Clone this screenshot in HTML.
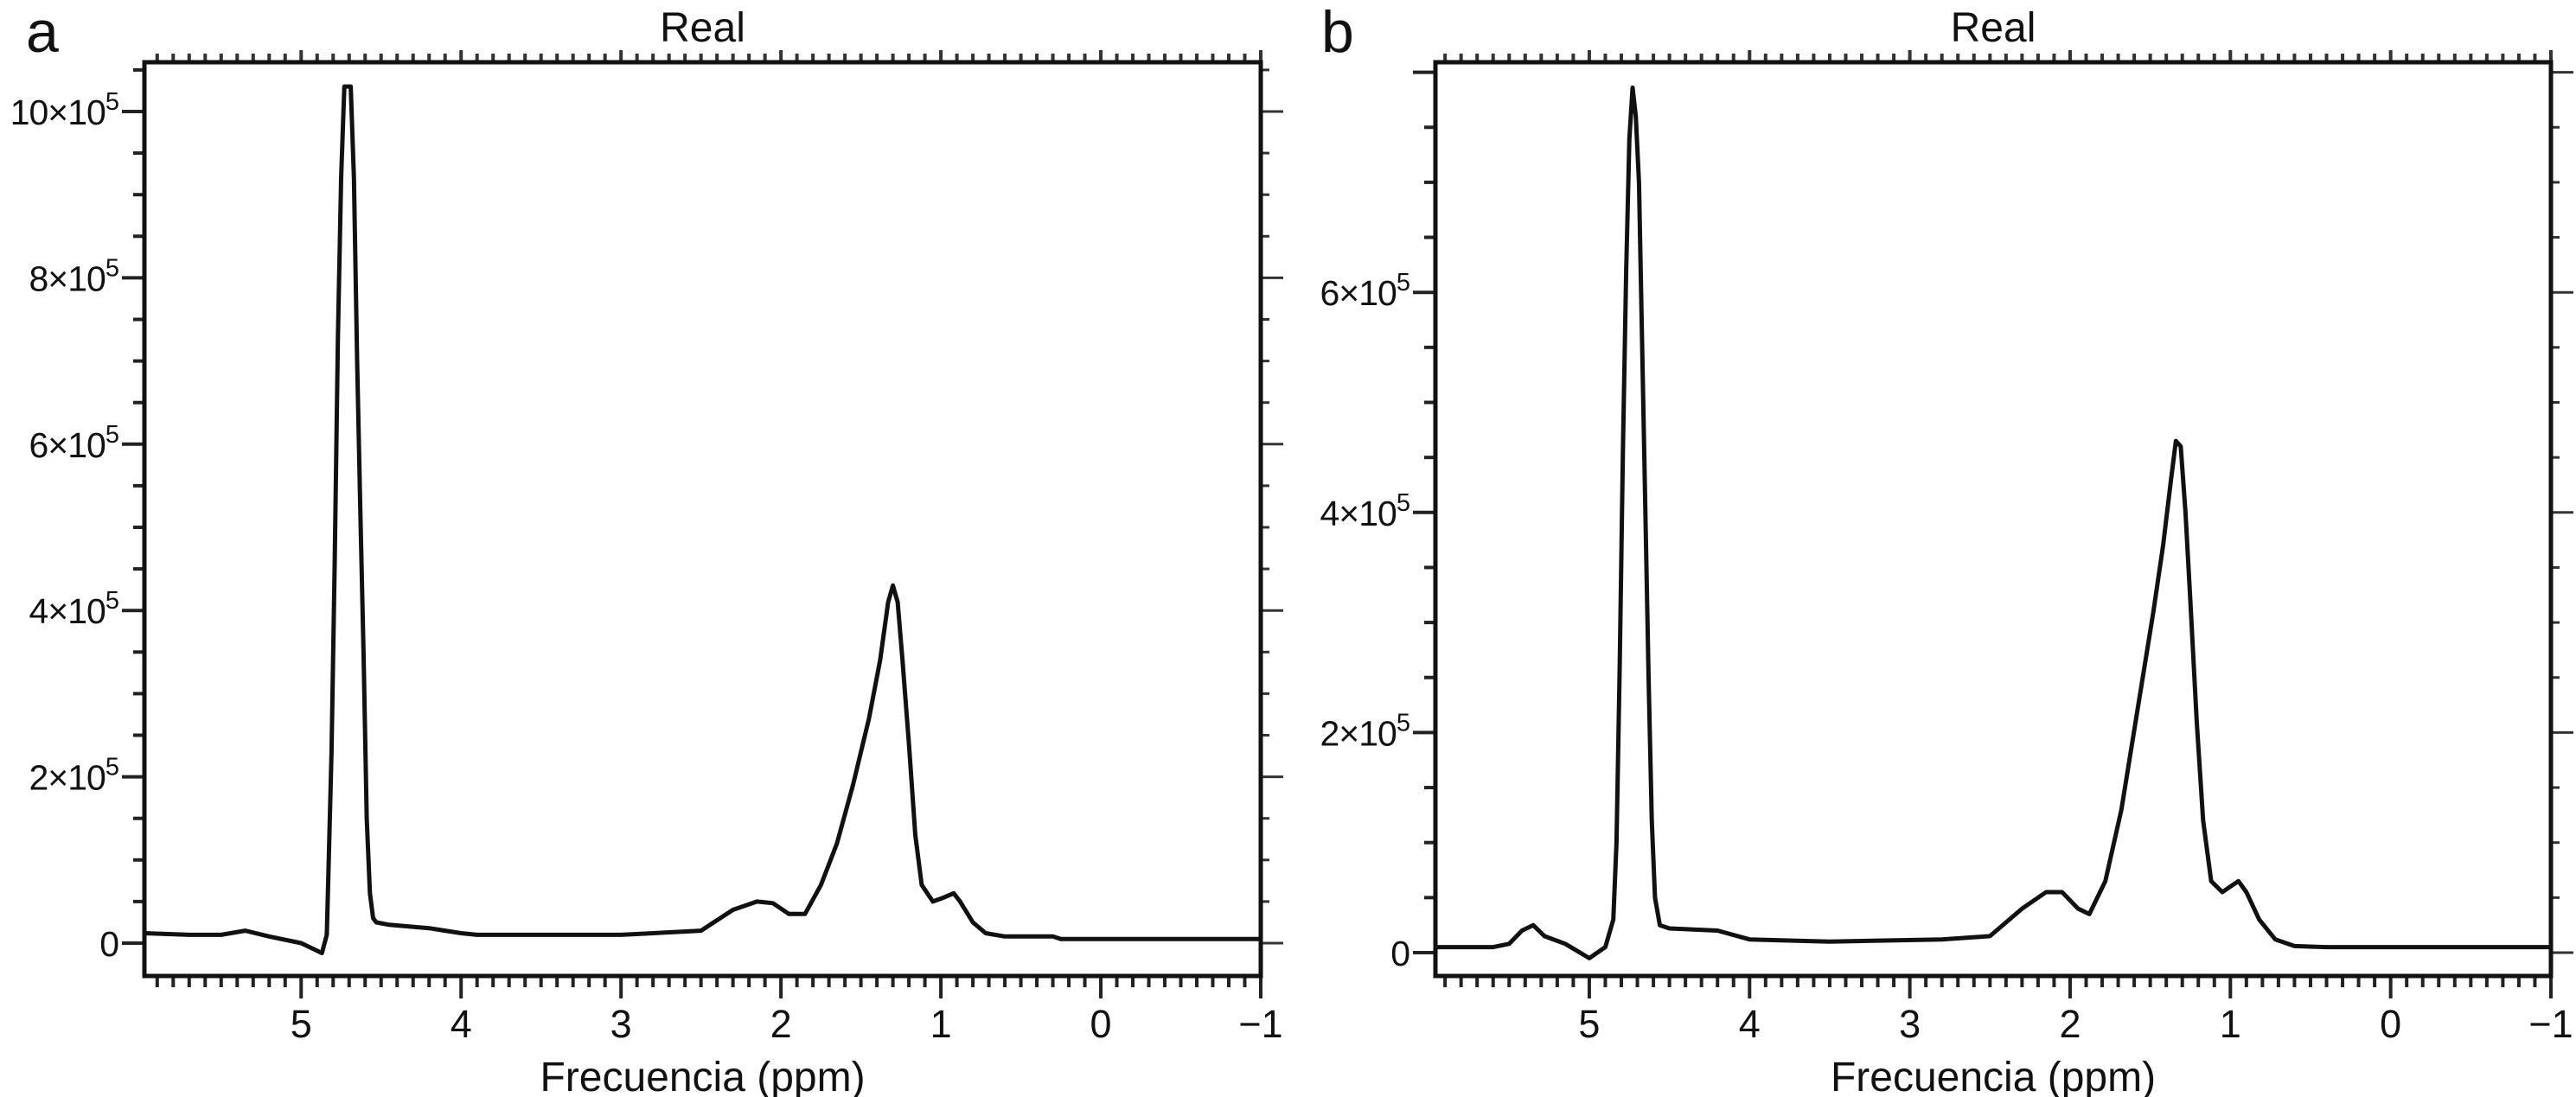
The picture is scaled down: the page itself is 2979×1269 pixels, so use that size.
<!DOCTYPE html>
<html><head><meta charset="utf-8">
<style>
html,body{margin:0;padding:0;background:#fff;}
svg{display:block;font-family:"Liberation Sans",sans-serif;}
</style></head>
<body>
<svg id="fig" width="2979" height="1269" viewBox="0 0 2979 1269" xmlns="http://www.w3.org/2000/svg"></svg>
<script>
// Panel a data (ppm, intensity in 1e5 units)
const ppmA = [5.98,5.7,5.5,5.35,5.2,5.0,4.87,4.84,4.83,4.81,4.79,4.77,4.75,4.73,4.71,4.69,4.67,4.65,4.63,4.61,4.59,4.57,4.55,4.53,4.45,4.2,4.0,3.9,3.0,2.5,2.3,2.15,2.05,1.95,1.85,1.75,1.65,1.55,1.45,1.38,1.33,1.30,1.27,1.24,1.20,1.16,1.12,1.05,0.98,0.92,0.88,0.8,0.72,0.6,0.3,0.25,-1];
const valA = [0.12,0.1,0.1,0.15,0.08,0.0,-0.12,0.1,0.8,2.3,4.6,7.3,9.2,10.3,10.3,10.3,9.2,7.0,5.2,3.5,1.5,0.6,0.3,0.25,0.22,0.18,0.12,0.1,0.1,0.15,0.4,0.5,0.48,0.35,0.35,0.7,1.2,1.9,2.7,3.4,4.1,4.3,4.1,3.4,2.4,1.3,0.7,0.5,0.55,0.6,0.5,0.25,0.12,0.08,0.08,0.05,0.05];
// Panel b data
const ppmB = [5.97,5.6,5.5,5.42,5.35,5.28,5.15,5.0,4.9,4.85,4.83,4.81,4.79,4.77,4.75,4.73,4.71,4.69,4.67,4.65,4.63,4.61,4.59,4.56,4.5,4.2,4.0,3.5,2.8,2.5,2.3,2.15,2.05,1.95,1.88,1.78,1.68,1.58,1.48,1.42,1.37,1.34,1.31,1.28,1.25,1.21,1.17,1.12,1.05,1.0,0.95,0.9,0.82,0.72,0.6,0.4,-1];
const valB = [0.05,0.05,0.08,0.2,0.25,0.15,0.08,-0.05,0.05,0.3,1.0,2.6,4.6,6.2,7.4,7.86,7.6,7.0,5.5,4.0,2.5,1.2,0.5,0.25,0.22,0.2,0.12,0.1,0.12,0.15,0.4,0.55,0.55,0.4,0.35,0.65,1.3,2.2,3.1,3.7,4.3,4.65,4.6,4.0,3.2,2.1,1.2,0.65,0.55,0.6,0.65,0.55,0.3,0.12,0.06,0.05,0.05];
// Tick label arrays
const xTicks = [5,4,3,2,1,0,-1];
const yTicksA = [0,2,4,6,8,10];
const yTicksB = [0,2,4,6];

const NS = "http://www.w3.org/2000/svg";
const svg = document.getElementById('fig');
function mk(tag, attrs, parent){const e=document.createElementNS(NS,tag);for(const k in attrs)e.setAttribute(k,attrs[k]);(parent||svg).appendChild(e);return e;}

function panel(cfg){
  const g = mk('g',{});
  
  
  const {L,R,T,B,x0,x1,zeroY,unit} = cfg;
  const xs = p => L + (x0 - p) / (x0 - x1) * (R - L);
  const ys = v => zeroY - v * unit;

  const lt = mk('text',{x:cfg.letterX,y:60,'font-size':68,fill:'#111'},g);
  lt.textContent = cfg.letter;
  
  
  const tt = mk('text',{x:(L+R)/2,y:48,'font-size':48,'text-anchor':'middle',fill:'#111'},g);
  tt.textContent = 'Real';
  
  

  for(let i=Math.floor(x1*10); i<=Math.floor(x0*10); i++){
    const p=i/10, x=xs(p), major=(i%10===0);
    const t1 = mk('line',{x1:x,x2:x,y1:B,y2:B+(major?26:13),stroke:'#222','stroke-width':4},g);
    
    
    const t2 = mk('line',{x1:x,x2:x,y1:T,y2:T-(major?14:10),stroke:'#333','stroke-width':4},g);
    
    
  }
  xTicks.forEach(v=>{
    const t = mk('text',{x:xs(v),y:1200,'font-size':45,'text-anchor':'middle',fill:'#111'},g);
    t.textContent = v<0 ? '\u2212'+Math.abs(v) : String(v);
    
    
  });
  for(let v=0; ys(v)>T; v+=0.5){
    const y=ys(v), major=(Math.abs(v%2)<1e-6);
    const t1 = mk('line',{x1:L,x2:L-(major?26:13),y1:y,y2:y,stroke:'#222','stroke-width':4},g);
    
    
    const t2 = mk('line',{x1:R,x2:R+(major?26:10),y1:y,y2:y,stroke:'#333','stroke-width':3},g);
    
    
  }
  cfg.yTicks.forEach(v=>{
    const y=ys(v);
    const t = mk('text',{x:L-30,y:y+15,'font-size':41,'text-anchor':'end',fill:'#111','letter-spacing':-1},g);
    
    
    if(v===0){t.textContent='0';}
    else{
      t.textContent = v+'\u00d710';
      const s = mk('tspan',{dy:-17,'font-size':29},t);
      s.textContent='5';
    }
  });
  const at = mk('text',{x:(L+R)/2,y:1262,'font-size':48,'text-anchor':'middle',fill:'#111'},g);
  at.textContent = 'Frecuencia (ppm)';
  
  

  const pts = cfg.ppm.map((p,i)=>xs(p).toFixed(1)+','+ys(cfg.val[i]).toFixed(1)).join(' ');
  const pl = mk('polyline',{points:pts,fill:'none',stroke:'#111','stroke-width':5,'stroke-linejoin':'round'},g);
  
  

  const fr = mk('rect',{x:L,y:T,width:R-L,height:B-T,fill:'none',stroke:'#111','stroke-width':5},g);
  
  
}

panel({letter:'a',letterX:30,L:167,R:1458,T:72,B:1129,x0:5.98,x1:-1,zeroY:1091,unit:96.2,ppm:ppmA,val:valA,yTicks:yTicksA});
panel({letter:'b',letterX:1528,L:1660,R:2950,T:72,B:1129,x0:5.96,x1:-1,zeroY:1102,unit:127.3,ppm:ppmB,val:valB,yTicks:yTicksB});
</script>
</body></html>
